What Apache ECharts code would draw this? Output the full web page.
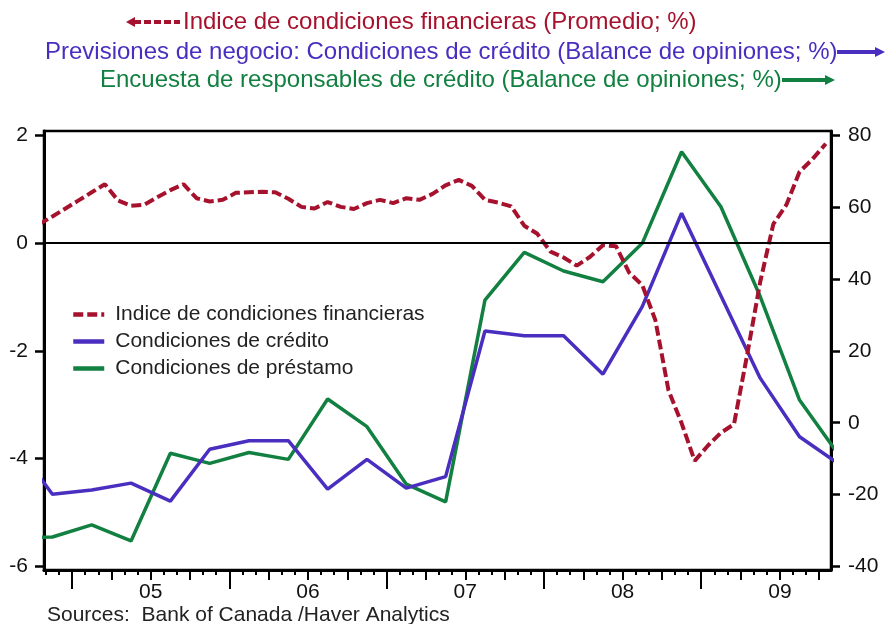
<!DOCTYPE html>
<html>
<head>
<meta charset="utf-8">
<script src="https://cdn.jsdelivr.net/npm/echarts@6/dist/echarts.min.js"></script>
<style>
  html, body { margin: 0; padding: 0; background: #fff; }
  #chart { width: 886px; height: 624px; }
</style>
</head>
<body>
<div id="chart"></div>
<script>
// Índice de condiciones financieras (mensual, eje izq.), desde oct-2004
const fciStart = [2004, 10]
const fciValues = [
  0.35, 0.49, 0.64,
  0.79, 0.94, 1.09, 0.79, 0.69, 0.71, 0.85, 0.98, 1.09, 0.83, 0.77, 0.80,
  0.93, 0.94, 0.95, 0.94, 0.82, 0.67, 0.64, 0.76, 0.67, 0.63, 0.74, 0.80,
  0.74, 0.83, 0.80, 0.91, 1.07, 1.17, 1.06, 0.80, 0.75, 0.68, 0.32, 0.17,
  -0.16, -0.27, -0.42, -0.26, -0.04, -0.06, -0.55, -0.78, -1.43, -2.73, -3.34, -4.04,
  -3.76, -3.52, -3.36, -2.08, -0.72, 0.35, 0.71, 1.32, 1.56, 1.84
]

// Encuestas trimestrales (eje der.), desde 2004T3
const quarterStart = [2004, 3]
const creditConditions = [
  -5.0, -19.9,
  -18.7, -16.8, -21.8, -7.4,
  -5.0, -5.0, -18.5, -10.2,
  -18.2, -15.0, 25.5, 24.2,
  24.2, 13.5, 32.3, 58.3,
  35.3, 12.4, -3.9, -11.5
]
const lendingConditions = [
  -32.0, -31.8,
  -28.4, -32.9, -8.5, -11.3,
  -8.3, -10.2, 6.6, -1.1,
  -17.1, -22.0, 34.1, 47.4,
  42.2, 39.2, 49.9, 75.4,
  60.1, 35.1, 6.3, -9.0
]

const yearLabels = ['05', '06', '07', '08', '09']
const leftTicks = [-6, -4, -2, 0, 2]
const rightTicks = [-40, -20, 0, 20, 40, 60, 80]

const seriesNames = [
  'Indice de condiciones financieras',
  'Condiciones de crédito',
  'Condiciones de préstamo'
]

const RED = '#a6122d'
const BLUE = '#4a2ec0'
const GREEN = '#128040'
const FONT = '"Liberation Sans", Arial, sans-serif'

// eje x en meses desde ene-2004
const monthPos = (y, m) => (y - 2004) * 12 + (m - 1) + 0.5
const quarterPos = (y, q) => (y - 2004) * 12 + (q - 1) * 3 + 1.5

const fciData = fciValues.map((v, i) => [monthPos(fciStart[0], fciStart[1] + i), v])
const qx = i => {
  const n = quarterStart[1] - 1 + i
  return quarterPos(quarterStart[0] + Math.floor(n / 4), (n % 4) + 1)
}
const creditData = creditConditions.map((v, i) => [qx(i), v])
const lendingData = lendingConditions.map((v, i) => [qx(i), v])

const xMin = 9.86, xMax = 69.9
const months = []
for (let m = Math.ceil(xMin); m <= xMax; m++) months.push(m)
const yearTicks = months.filter(m => m % 12 === 0)
const quarterTicks = months.filter(m => m % 3 === 0 && m % 12 !== 0)
const labelPos = yearLabels.map((s, i) => (i + 1) * 12 + 6)

const leftMin = -6.065, leftMax = 2.077
const rightMin = leftMin * 15 + 50, rightMax = leftMax * 15 + 50

const tickAxis = (values, len) => ({
  type: 'value', min: xMin, max: xMax, position: 'bottom',
  axisLine: { show: false, onZero: false },
  splitLine: { show: false },
  axisLabel: { show: false },
  axisTick: { show: true, customValues: values, length: len, lineStyle: { color: '#000', width: 2 } }
})

const chart = echarts.init(document.getElementById('chart'))

const option = {
  animation: false,
  textStyle: { fontFamily: FONT },
  grid: {
    left: 44, right: 55, top: 131, bottom: 54,
    show: true, borderColor: '#000', borderWidth: 2.5
  },
  legend: {
    orient: 'vertical',
    left: 71, top: 304, padding: 0,
    itemWidth: 31, itemHeight: 14, itemGap: 6,
    data: seriesNames,
    itemStyle: { opacity: 0 },
    lineStyle: { width: 4.5 },
    textStyle: { fontSize: 21, color: '#222', fontFamily: FONT, padding: [0, 0, 0, 6] }
  },
  xAxis: [
    {
      type: 'value', min: xMin, max: xMax, position: 'bottom',
      axisLine: { show: true, onZero: false, lineStyle: { color: '#000', width: 3 } },
      splitLine: { show: false },
      axisTick: { show: true, customValues: months, length: 5, lineStyle: { color: '#000', width: 2 } },
      axisLabel: {
        customValues: labelPos, margin: 12, fontSize: 21, color: '#111', fontFamily: FONT,
        formatter: v => yearLabels[Math.round((v - 18) / 12)]
      }
    },
    tickAxis(quarterTicks, 10),
    tickAxis(yearTicks, 19)
  ],
  yAxis: [
    {
      type: 'value', min: leftMin, max: leftMax, position: 'left',
      axisLine: { show: true, onZero: false, lineStyle: { color: '#000', width: 3 } },
      splitLine: { show: false },
      axisTick: { show: true, customValues: leftTicks, length: 9, lineStyle: { color: '#000', width: 2.5 } },
      axisLabel: { customValues: leftTicks, margin: 16, fontSize: 21, color: '#111', fontFamily: FONT }
    },
    {
      type: 'value', min: rightMin, max: rightMax, position: 'right',
      axisLine: { show: true, onZero: false, lineStyle: { color: '#000', width: 3 } },
      splitLine: { show: false },
      axisTick: { show: true, customValues: rightTicks, length: 9, lineStyle: { color: '#000', width: 2.5 } },
      axisLabel: { customValues: rightTicks, margin: 17, fontSize: 21, color: '#111', fontFamily: FONT }
    }
  ],
  series: [
    {
      name: seriesNames[2], type: 'line', xAxisIndex: 0, yAxisIndex: 1,
      data: lendingData, symbol: 'none',
      lineStyle: { color: GREEN, width: 3.5 }, itemStyle: { color: GREEN }
    },
    {
      name: seriesNames[1], type: 'line', xAxisIndex: 0, yAxisIndex: 1,
      data: creditData, symbol: 'none',
      lineStyle: { color: BLUE, width: 3.5 }, itemStyle: { color: BLUE }
    },
    {
      name: seriesNames[0], type: 'line', xAxisIndex: 0, yAxisIndex: 0,
      data: fciData, symbol: 'none',
      lineStyle: { color: RED, width: 4, type: [10, 4] }, itemStyle: { color: RED },
      markLine: {
        silent: true, symbol: 'none', label: { show: false },
        lineStyle: { color: '#000', width: 2, type: 'solid' },
        data: [{ yAxis: 0 }]
      }
    }
  ],
  graphic: [
    // leyenda superior
    { type: 'polygon', shape: { points: [[126, 22], [135, 17], [135, 27]] }, style: { fill: RED } },
    { type: 'line', shape: { x1: 134, y1: 22, x2: 180, y2: 22 }, style: { stroke: RED, lineWidth: 4, lineDash: [7, 3] } },
    { type: 'text', x: 183, y: 22, style: { text: 'Indice de condiciones financieras (Promedio; %)', font: '24px ' + FONT, fill: RED, verticalAlign: 'middle' } },

    { type: 'text', x: 45, y: 52, style: { text: 'Previsiones de negocio: Condiciones de crédito (Balance de opiniones; %)', font: '24px ' + FONT, fill: BLUE, verticalAlign: 'middle' } },
    { type: 'line', shape: { x1: 837, y1: 52, x2: 876, y2: 52 }, style: { stroke: BLUE, lineWidth: 4 } },
    { type: 'polygon', shape: { points: [[885, 52], [875, 47], [875, 57]] }, style: { fill: BLUE } },

    { type: 'text', x: 100, y: 80, style: { text: 'Encuesta de responsables de crédito (Balance de opiniones; %)', font: '24px ' + FONT, fill: GREEN, verticalAlign: 'middle' } },
    { type: 'line', shape: { x1: 782, y1: 80, x2: 826, y2: 80 }, style: { stroke: GREEN, lineWidth: 4 } },
    { type: 'polygon', shape: { points: [[835, 80], [825, 75], [825, 85]] }, style: { fill: GREEN } },

    { type: 'text', x: 47, y: 615, style: { text: 'Sources:  Bank of Canada /Haver Analytics', font: '21px ' + FONT, fill: '#222', verticalAlign: 'middle' } }
  ]
}

chart.setOption(option)
window.addEventListener('resize', () => chart.resize())
</script>
</body>
</html>
